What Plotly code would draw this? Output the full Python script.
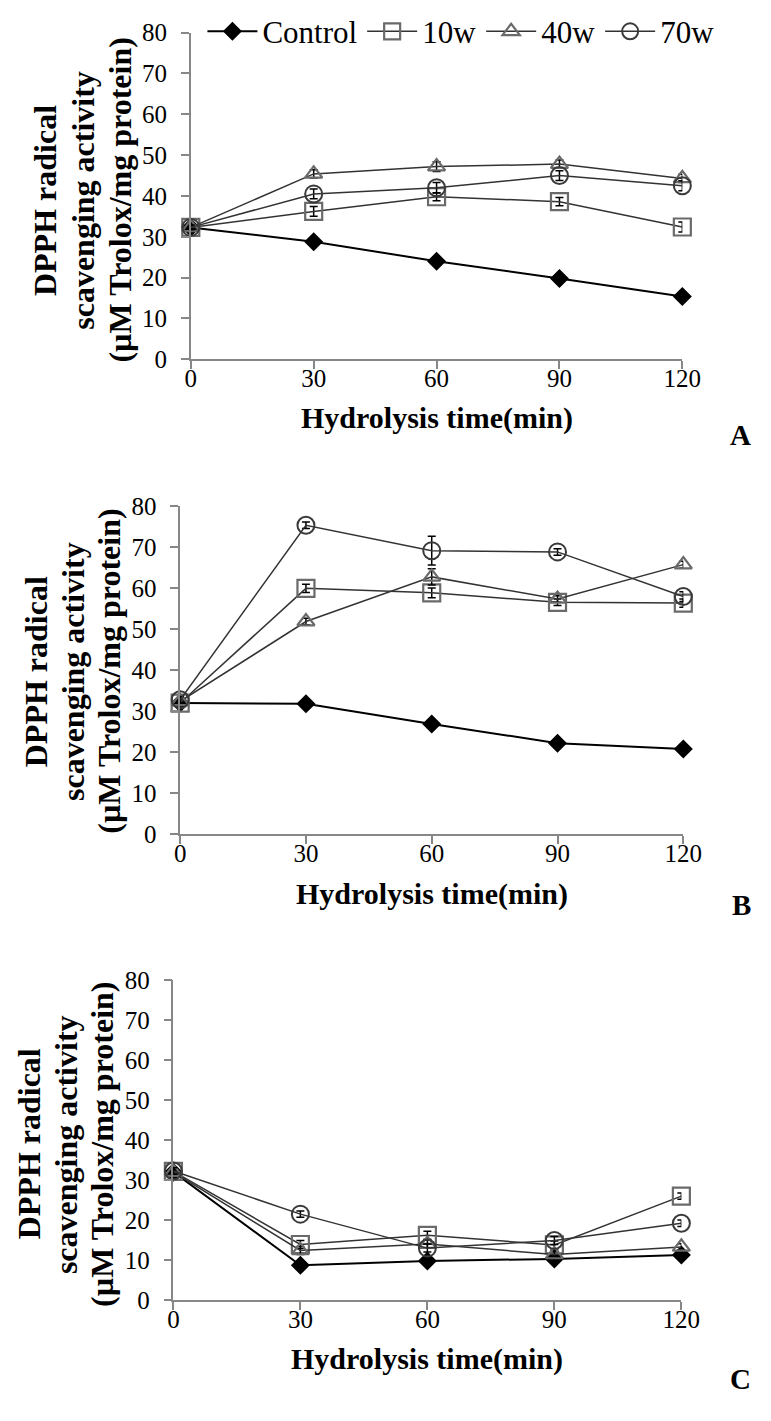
import plotly.graph_objects as go

# Hydrolysis time points (min)
time_min = [0, 30, 60, 90, 120]
series_names = ["Control", "10w", "40w", "70w"]

# Panel A: DPPH radical scavenging activity (uM Trolox/mg protein)
a_control = [32.3, 28.8, 24.0, 19.8, 15.4]
a_10w = [32.3, 36.2, 39.8, 38.6, 32.4]
a_40w = [32.3, 45.4, 47.2, 47.8, 44.3]
a_70w = [32.3, 40.5, 42.0, 45.0, 42.5]
a_control_err = [0.6, 0.6, 0.6, 0.5, 0.5]
a_10w_err = [0.6, 1.2, 1.0, 1.0, 1.2]
a_40w_err = [0.6, 1.0, 1.2, 1.0, 1.0]
a_70w_err = [0.6, 1.2, 1.3, 1.2, 1.2]

# Panel B
b_control = [32.0, 31.8, 26.9, 22.2, 20.8]
b_10w = [32.0, 60.0, 58.9, 56.6, 56.4]
b_40w = [32.4, 51.9, 62.8, 57.4, 65.8]
b_70w = [32.8, 75.4, 69.2, 68.9, 58.0]
b_control_err = [0.6, 0.6, 0.6, 0.6, 0.6]
b_10w_err = [0.8, 1.0, 1.2, 0.8, 1.0]
b_40w_err = [0.8, 0.8, 2.0, 0.8, 0.8]
b_70w_err = [0.8, 0.8, 3.5, 0.8, 1.2]

# Panel C
c_control = [32.0, 8.7, 9.8, 10.3, 11.3]
c_10w = [32.2, 13.9, 16.2, 13.8, 26.0]
c_40w = [32.0, 12.4, 14.0, 11.4, 13.3]
c_70w = [32.3, 21.5, 13.0, 14.9, 19.2]
c_control_err = [0.6, 0.6, 0.6, 0.6, 0.6]
c_10w_err = [0.8, 1.0, 1.0, 1.0, 0.8]
c_40w_err = [0.8, 1.0, 1.0, 1.0, 0.8]
c_70w_err = [0.8, 0.8, 1.0, 1.0, 0.8]

y_tick_values = [0, 10, 20, 30, 40, 50, 60, 70, 80]
x_tick_values = [0, 30, 60, 90, 120]
y_title_lines = ["DPPH radical", "scavenging activity", "(µM Trolox/mg protein)"]
x_title = "Hydrolysis time(min)"
panel_letters = ["A", "B", "C"]

W, H = 771, 1421
SERIF = "Liberation Serif"
AXIS_GREY = "#878787"

# plot boxes in pixels: left, right, top, bottom
boxes = [
    (191, 699, 20, 353),
    (180, 700, 503, 837),
    (173, 698, 986, 1312),
]
# y-title: x centre of each of the three rotated lines, common y centre
ytitle_cols = [(41, 80, 118), (31, 69, 107), (24, 62, 99)]
ytitle_y = [191, 671, 1153]
xtitle_y = [413, 898, 1372]
letter_pos = [(759, 430), (760, 909), (759, 1392)]


def px_x(x):
    return x / W


def px_y(y):
    return 1 - y / H


styles = {
    "Control": dict(symbol="diamond", size=13, color="black",
                    line=dict(color="black", width=1.5)),
    "10w": dict(symbol="square-open", size=17, color="#6a6a6a",
                line=dict(color="#6a6a6a", width=2.2)),
    "40w": dict(symbol="triangle-up-open", size=15, color="#6a6a6a",
                line=dict(color="#6a6a6a", width=2.2)),
    "70w": dict(symbol="circle-open", size=17, color="#3a3a3a",
                line=dict(color="#3a3a3a", width=2)),
}
line_colors = {"Control": "black", "10w": "#333333", "40w": "#333333", "70w": "#333333"}
line_widths = {"Control": 2, "10w": 1.5, "40w": 1.5, "70w": 1.5}

panels = [
    [(a_control, a_control_err), (a_10w, a_10w_err), (a_40w, a_40w_err), (a_70w, a_70w_err)],
    [(b_control, b_control_err), (b_10w, b_10w_err), (b_40w, b_40w_err), (b_70w, b_70w_err)],
    [(c_control, c_control_err), (c_10w, c_10w_err), (c_40w, c_40w_err), (c_70w, c_70w_err)],
]

fig = go.Figure()

for p, panel in enumerate(panels):
    suffix = "" if p == 0 else str(p + 1)
    for name, (vals, errs) in zip(series_names, panel):
        fig.add_trace(go.Scatter(
            x=time_min, y=vals,
            mode="lines+markers",
            name=name,
            legendgroup=name,
            showlegend=(p == 0),
            xaxis="x" + suffix, yaxis="y" + suffix,
            line=dict(color=line_colors[name], width=line_widths[name]),
            marker=styles[name],
            error_y=dict(type="data", array=errs, visible=True,
                         color="black", thickness=1.5, width=4),
            cliponaxis=False,
        ))

layout = dict(
    width=W, height=H, autosize=False,
    margin=dict(l=0, r=0, t=0, b=0),
    paper_bgcolor="white", plot_bgcolor="white",
    font=dict(family=SERIF, color="black", size=25),
    showlegend=True,
    legend=dict(
        orientation="h", x=px_x(203), y=px_y(19), xanchor="left", yanchor="middle",
        font=dict(family=SERIF, size=31, color="black"),
        bgcolor="rgba(0,0,0,0)", itemwidth=50, tracegroupgap=0,
    ),
)

annotations = []
for p, (l, r, t, b) in enumerate(boxes):
    suffix = "" if p == 0 else str(p + 1)
    layout["xaxis" + suffix] = dict(
        domain=[px_x(l), px_x(r)], anchor="y" + suffix,
        range=[0, 120], tickvals=x_tick_values, ticks="outside",
        ticklen=8, tickwidth=1.5, tickcolor=AXIS_GREY,
        showline=True, linecolor=AXIS_GREY, linewidth=1.5,
        showgrid=False, zeroline=False, ticklabelstandoff=-12,
        tickfont=dict(family=SERIF, size=25, color="black"),
    )
    layout["yaxis" + suffix] = dict(
        domain=[px_y(b), px_y(t)], anchor="x" + suffix,
        range=[0, 80], tickvals=y_tick_values, ticks="outside",
        ticklen=8, tickwidth=1.5, tickcolor=AXIS_GREY,
        showline=True, linecolor=AXIS_GREY, linewidth=1.5,
        showgrid=False, zeroline=False, ticklabelstandoff=9,
        tickfont=dict(family=SERIF, size=25, color="black"),
    )
    for line_text, cx in zip(y_title_lines, ytitle_cols[p]):
        annotations.append(dict(
            text="<b>" + line_text + "</b>", textangle=-90,
            xref="paper", yref="paper", x=px_x(cx), y=px_y(ytitle_y[p]),
            xanchor="center", yanchor="middle", showarrow=False,
            font=dict(family=SERIF, size=32, color="black"),
        ))
    annotations.append(dict(
        text="<b>" + x_title + "</b>",
        xref="paper", yref="paper", x=px_x((l + r) / 2), y=px_y(xtitle_y[p]),
        xanchor="center", yanchor="middle", showarrow=False,
        font=dict(family=SERIF, size=30, color="black"),
    ))
    lx, ly = letter_pos[p]
    annotations.append(dict(
        text="<b>" + panel_letters[p] + "</b>",
        xref="paper", yref="paper", x=px_x(lx), y=px_y(ly),
        xanchor="center", yanchor="middle", showarrow=False,
        font=dict(family=SERIF, size=29, color="black"),
    ))

layout["annotations"] = annotations
fig.update_layout(**layout)

fig.write_html("out.html")
